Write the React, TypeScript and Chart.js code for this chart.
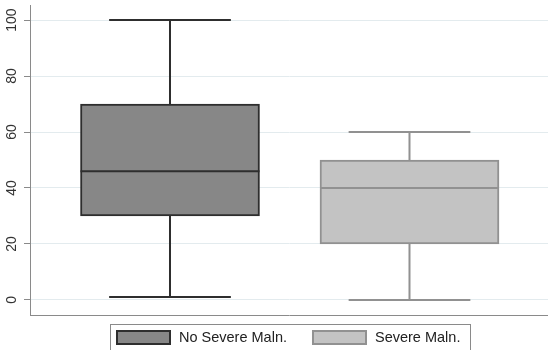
import React, { useEffect, useRef } from 'react';
import { Chart, registerables } from 'chart.js';

Chart.register(...registerables);

// ---- data ----
const groups = ['No Severe Maln.', 'Severe Maln.'];
const positions = [1, 2];
const mins = [1, 0];
const q1s = [30, 20];
const medians = [46, 40];
const q3s = [70, 50];
const maxs = [100, 60];
const yTicks = [0, 20, 40, 60, 80, 100];

// ---- style ----
const fills = ['#878787', '#c3c3c3'];
const strokes = ['#2e2e2e', '#919191'];
const FONT = "'Liberation Sans', Arial, Helvetica, sans-serif";

const boxPlugin = {
  id: 'boxWhiskers',
  afterDatasetsDraw(chart: any) {
    const { ctx } = chart;
    const x = chart.scales.x;
    const y = chart.scales.y;
    groups.forEach((_g, i) => {
      const el = chart.getDatasetMeta(i).data[0];
      if (!el) return;
      const cx = x.getPixelForValue(positions[i]);
      const half = el.width / 2;
      const capHalf = el.width * 0.34;
      const yMax = y.getPixelForValue(maxs[i]);
      const yMin = y.getPixelForValue(mins[i]);
      const yQ1 = y.getPixelForValue(q1s[i]);
      const yQ3 = y.getPixelForValue(q3s[i]);
      const yMed = y.getPixelForValue(medians[i]);
      ctx.save();
      ctx.strokeStyle = strokes[i];
      ctx.lineWidth = 2;
      ctx.beginPath();
      ctx.moveTo(cx, yQ3);
      ctx.lineTo(cx, yMax);
      ctx.moveTo(cx - capHalf, yMax);
      ctx.lineTo(cx + capHalf, yMax);
      ctx.moveTo(cx, yQ1);
      ctx.lineTo(cx, yMin);
      ctx.moveTo(cx - capHalf, yMin);
      ctx.lineTo(cx + capHalf, yMin);
      ctx.moveTo(cx - half, yMed);
      ctx.lineTo(cx + half, yMed);
      ctx.stroke();
      ctx.restore();
    });
  },
};

const legendPlugin = {
  id: 'stataLegend',
  afterDraw(chart: any) {
    const { ctx, chartArea } = chart;
    ctx.save();
    ctx.font = `14.5px ${FONT}`;
    const sw = 55;
    const sh = 15;
    const gap = 8;
    const itemGap = 25;
    const widths = groups.map((g) => sw + gap + ctx.measureText(g).width);
    const total = widths.reduce((a, b) => a + b, 0) + itemGap * (groups.length - 1);
    const center = (chartArea.left + chartArea.right) / 2 - 1;
    let xx = Math.round(center - total / 2);
    const top = chartArea.bottom + 15;
    ctx.strokeStyle = '#8a8a8a';
    ctx.lineWidth = 1;
    ctx.strokeRect(xx - 6 + 0.5, chartArea.bottom + 9.5, Math.round(total + 16), 40);
    groups.forEach((g, i) => {
      ctx.fillStyle = fills[i];
      ctx.fillRect(xx, top, sw, sh);
      ctx.strokeStyle = strokes[i];
      ctx.lineWidth = 2;
      ctx.strokeRect(xx + 1, top + 1, sw - 2, sh - 2);
      ctx.fillStyle = '#222';
      ctx.textAlign = 'left';
      ctx.textBaseline = 'middle';
      ctx.fillText(g, xx + sw + gap, top + sh / 2 + 0.5);
      xx += widths[i] + itemGap;
    });
    ctx.restore();
  },
};

export default function App() {
  const ref = useRef<HTMLCanvasElement | null>(null);

  useEffect(() => {
    if (!ref.current) return;
    const chart = new Chart(ref.current, {
      type: 'bar',
      data: {
        datasets: groups.map((g, i) => ({
          type: 'bar' as const,
          label: g,
          data: [{ x: positions[i], y: [q1s[i], q3s[i]] }] as any,
          backgroundColor: fills[i],
          borderColor: strokes[i],
          borderWidth: 2,
          borderSkipped: false,
          barThickness: 179,
          grouped: false,
        })),
      },
      options: {
        animation: false,
        responsive: false,
        layout: { padding: { top: 5, bottom: 35, left: 0, right: 0 } },
        plugins: {
          legend: { display: false },
          tooltip: { enabled: false },
          title: { display: false },
        },
        scales: {
          x: {
            type: 'linear',
            offset: false,
            min: 0.41545,
            max: 2.5783,
            ticks: { display: false },
            grid: { display: false },
            border: { display: true, color: '#8a8a8a', width: 1 },
            afterFit: (s: any) => {
              s.height = 0;
              s.paddingLeft = 0;
              s.paddingRight = 0;
            },
          },
          y: {
            type: 'linear',
            min: -5.4,
            max: 105.4,
            afterBuildTicks: (s: any) => {
              s.ticks = yTicks.map((v) => ({ value: v }));
            },
            ticks: {
              font: { size: 14, family: FONT },
              color: '#333',
              minRotation: 90,
              maxRotation: 90,
              crossAlign: 'center',
              padding: 0,
            },
            grid: {
              color: '#e3ebee',
              lineWidth: 1,
              tickColor: '#8a8a8a',
              tickLength: 6,
            },
            border: { display: true, color: '#8a8a8a', width: 1 },
            afterFit: (s: any) => {
              s.width = 30;
              s.paddingTop = 0;
              s.paddingBottom = 0;
            },
          },
        },
      } as any,
      plugins: [boxPlugin, legendPlugin],
    });
    return () => chart.destroy();
  }, []);

  return (
    <div style={{ position: 'fixed', left: 0, top: 0, width: 548, height: 350, overflow: 'hidden', background: '#fff' }}>
      <canvas ref={ref} width={548} height={350} style={{ display: 'block' }} />
    </div>
  );
}
